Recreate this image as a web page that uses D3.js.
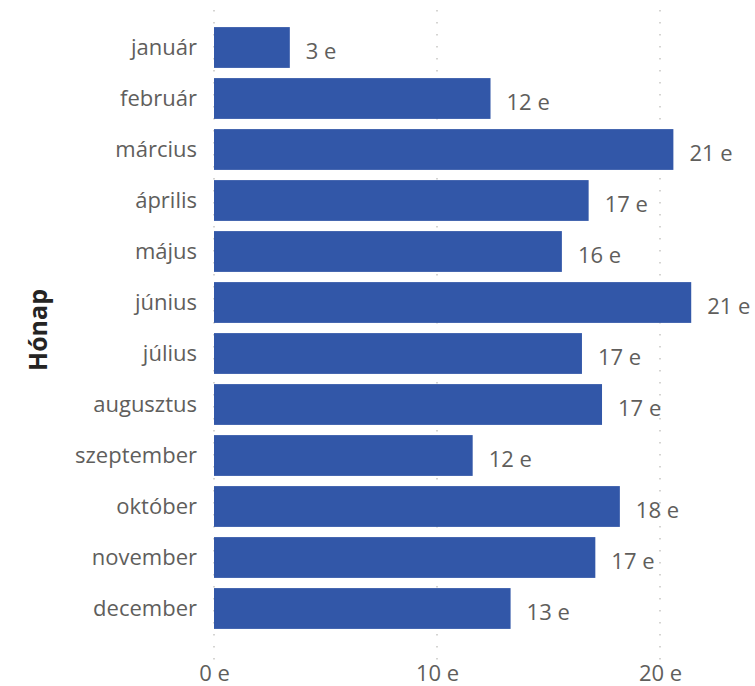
<!DOCTYPE html>
<html>
<head>
<meta charset="utf-8">
<script src="https://cdn.jsdelivr.net/npm/d3@7"></script>
<style>
  body { margin: 0; background: #fff; }
  text { font-family: "Segoe UI", "Open Sans", "Noto Sans", sans-serif; }
</style>
</head>
<body>
<div id="chart"></div>
<script>
// data
var months = ["január", "február", "március", "április", "május", "június",
  "július", "augusztus", "szeptember", "október", "november", "december"];
var values = [3.4, 12.4, 20.6, 16.8, 15.6, 21.4, 16.5, 17.4, 11.6, 18.2, 17.1, 13.3];
var ticks = [0, 10, 20];

var margin = { top: 22, right: 40, bottom: 52, left: 214 },
  width = 755 - margin.left - margin.right,
  height = 686 - margin.top - margin.bottom;

var svg = d3.select("#chart")
  .append("svg")
  .attr("width", 755)
  .attr("height", 686)
  .append("g")
  .attr("transform", "translate(" + margin.left + "," + margin.top + ")");

var x = d3.scaleLinear()
  .domain([0, 20])
  .range([0, 446]);

var y = d3.scaleBand()
  .domain(months)
  .range([0, height])
  .paddingInner(0.2)
  .paddingOuter(0.1);

// dotted gridlines
svg.selectAll("line.grid")
  .data(ticks)
  .enter()
  .append("line")
  .attr("class", "grid")
  .attr("x1", function (d) { return x(d); })
  .attr("x2", function (d) { return x(d); })
  .attr("y1", -12)
  .attr("y2", height + 26)
  .attr("stroke", "#c8c6c4")
  .attr("stroke-width", 1.5)
  .attr("stroke-dasharray", "1.5,10.5");

// X axis labels
var xAxis = svg.append("g")
  .attr("transform", "translate(0," + (height + 27) + ")")
  .call(d3.axisBottom(x).tickValues(ticks).tickSize(0).tickPadding(0)
    .tickFormat(function (d) { return d + " e"; }));
xAxis.select(".domain").remove();
xAxis.selectAll("text")
  .attr("dy", "0.9em")
  .attr("fill", "#605e5c")
  .style("font-size", "22px");

// Y axis labels
var yAxis = svg.append("g")
  .call(d3.axisLeft(y).tickSize(0).tickPadding(17));
yAxis.select(".domain").remove();
yAxis.selectAll("text")
  .attr("fill", "#605e5c")
  .style("font-size", "22px");

// Bars
svg.selectAll("rect.bar")
  .data(values)
  .enter()
  .append("rect")
  .attr("class", "bar")
  .attr("x", x(0))
  .attr("y", function (d, i) { return y(months[i]); })
  .attr("width", function (d) { return x(d) - x(0); })
  .attr("height", y.bandwidth())
  .attr("fill", "#3257a8");

// value labels
svg.selectAll("text.val")
  .data(values)
  .enter()
  .append("text")
  .attr("class", "val")
  .attr("x", function (d) { return x(d) + 16; })
  .attr("y", function (d, i) { return y(months[i]) + y.bandwidth() / 2 + 4; })
  .attr("dy", "0.35em")
  .attr("fill", "#605e5c")
  .style("font-size", "22px")
  .text(function (d) { return Math.round(d) + " e"; });

// axis title
svg.append("text")
  .attr("transform", "translate(" + (38 - margin.left) + "," + (330 - margin.top) + ") rotate(-90)")
  .attr("text-anchor", "middle")
  .attr("dy", "0.35em")
  .attr("fill", "#252423")
  .style("font-size", "25px")
  .style("font-weight", "bold")
  .text("Hónap");
</script>
</body>
</html>
